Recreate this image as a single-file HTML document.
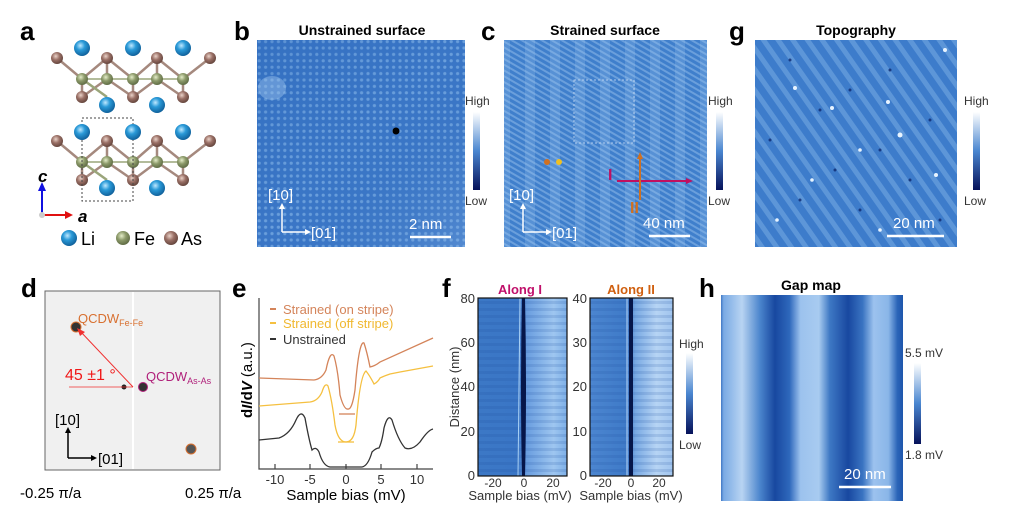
<!DOCTYPE html>
<html><head><meta charset="utf-8"><style>
html,body{margin:0;padding:0;background:#fff;}
svg{display:block;font-family:"Liberation Sans",Arial,sans-serif;}
.lbl{font-weight:bold;font-size:26px;}
.ttl{font-weight:bold;font-size:14px;}
.sm{font-size:12px;fill:#333;}
</style></head><body>
<svg width="1024" height="515" viewBox="0 0 1024 515">
<defs>
<linearGradient id="cb" x1="0" y1="0" x2="0" y2="1"><stop offset="0" stop-color="#ffffff"/><stop offset="0.5" stop-color="#4a86d0"/><stop offset="1" stop-color="#06125a"/></linearGradient>
<pattern id="lat" width="6.4" height="6.4" patternUnits="userSpaceOnUse"><rect width="6.4" height="6.4" fill="#3a76c6"/><circle cx="3.2" cy="3.2" r="1.6" fill="#6a9fdc"/></pattern>
<linearGradient id="bshade" x1="0" y1="0" x2="1" y2="1"><stop offset="0" stop-color="#1f5bb0" stop-opacity="0.2"/><stop offset="0.5" stop-color="#1f5bb0" stop-opacity="0"/><stop offset="1" stop-color="#9cc4f0" stop-opacity="0.25"/></linearGradient>
<pattern id="diag" width="5" height="5" patternUnits="userSpaceOnUse" patternTransform="rotate(-60)"><rect width="5" height="5" fill="#3f7fcc"/><rect width="2" height="5" fill="#6a9fdc"/></pattern>
<pattern id="vband" width="25" height="10" patternUnits="userSpaceOnUse"><rect width="10" height="10" fill="#9ec6f0" fill-opacity="0.25"/></pattern>
<pattern id="diag2" width="12" height="12" patternUnits="userSpaceOnUse" patternTransform="rotate(-35)"><rect width="12" height="12" fill="#3d7ccb"/><rect width="5" height="12" fill="#5d96d8"/></pattern>
<linearGradient id="hband" x1="720" y1="0" x2="903" y2="0" gradientUnits="userSpaceOnUse">
<stop offset="0" stop-color="#2a64b8"/><stop offset="0.02" stop-color="#7aaae4"/><stop offset="0.12" stop-color="#b8d4f2"/><stop offset="0.22" stop-color="#4a84cc"/><stop offset="0.3" stop-color="#1848a0"/><stop offset="0.38" stop-color="#2e68bc"/><stop offset="0.44" stop-color="#9cc2ee"/><stop offset="0.54" stop-color="#a8cbf0"/><stop offset="0.6" stop-color="#3e78c4"/><stop offset="0.7" stop-color="#1848a0"/><stop offset="0.78" stop-color="#3a74c2"/><stop offset="0.84" stop-color="#9cc2ee"/><stop offset="0.92" stop-color="#8ab6e8"/><stop offset="0.97" stop-color="#2a64b8"/><stop offset="1" stop-color="#1e56ac"/></linearGradient>
<linearGradient id="f1g" x1="0" y1="0" x2="1" y2="0"><stop offset="0" stop-color="#3c78c6"/><stop offset="0.45" stop-color="#3a76c6"/><stop offset="0.55" stop-color="#6a9ee0"/><stop offset="0.85" stop-color="#9ec6f0"/><stop offset="1" stop-color="#7eb0e8"/></linearGradient>
<linearGradient id="f2g" x1="0" y1="0" x2="1" y2="0"><stop offset="0" stop-color="#4c86d0"/><stop offset="0.45" stop-color="#3e7ac8"/><stop offset="0.55" stop-color="#7aaae4"/><stop offset="0.8" stop-color="#b6d4f4"/><stop offset="1" stop-color="#a0c4ee"/></linearGradient>
<pattern id="hstr" width="10" height="7" patternUnits="userSpaceOnUse"><rect width="10" height="3" fill="#1c4a9a" fill-opacity="0.15"/></pattern>
<radialGradient id="li" cx="0.4" cy="0.35" r="0.7"><stop offset="0" stop-color="#bfe8ff"/><stop offset="0.4" stop-color="#2a9ad8"/><stop offset="1" stop-color="#0d5a94"/></radialGradient>
<radialGradient id="fe" cx="0.4" cy="0.35" r="0.7"><stop offset="0" stop-color="#e4ecc8"/><stop offset="0.45" stop-color="#8c9a6a"/><stop offset="1" stop-color="#5a6640"/></radialGradient>
<radialGradient id="as" cx="0.4" cy="0.35" r="0.7"><stop offset="0" stop-color="#ead2c8"/><stop offset="0.45" stop-color="#9a7066"/><stop offset="1" stop-color="#5e4038"/></radialGradient>
</defs>

<text x="20" y="40" class="lbl">a</text>
<text x="234" y="40" class="lbl">b</text>
<text x="481" y="40" class="lbl">c</text>
<text x="729" y="40" class="lbl">g</text>
<text x="21" y="297" class="lbl">d</text>
<text x="232" y="297" class="lbl">e</text>
<text x="442" y="297" class="lbl">f</text>
<text x="699" y="297" class="lbl">h</text>

<!-- panel a -->
<g stroke-width="2.5">
<g id="layer">
<polyline points="57,58 82,79 107,58 133,79 157,58 183,79 210,58" fill="none" stroke="#a5897e"/>
<polyline points="82,97 107,79 133,97 157,79 183,97" fill="none" stroke="#a5897e"/>
<polyline points="82,79 107,97 M107,97" fill="none" stroke="#9aa57a"/>
<polyline points="82,97 82,79 M0,0" fill="none" stroke="#a5897e"/>
<line x1="107" y1="58" x2="107" y2="79" stroke="#a5897e"/><line x1="157" y1="58" x2="157" y2="79" stroke="#a5897e"/>
<line x1="133" y1="79" x2="133" y2="97" stroke="#a5897e"/><line x1="183" y1="79" x2="183" y2="97" stroke="#a5897e"/>
<polyline points="82,79 107,79 133,79 157,79 183,79" fill="none" stroke="#9aa57a" stroke-width="1.5"/>
<circle cx="57" cy="58" r="6" fill="url(#as)"/><circle cx="107" cy="58" r="6" fill="url(#as)"/><circle cx="157" cy="58" r="6" fill="url(#as)"/><circle cx="210" cy="58" r="6" fill="url(#as)"/>
<circle cx="82" cy="79" r="6" fill="url(#fe)"/><circle cx="107" cy="79" r="6" fill="url(#fe)"/><circle cx="133" cy="79" r="6" fill="url(#fe)"/><circle cx="157" cy="79" r="6" fill="url(#fe)"/><circle cx="183" cy="79" r="6" fill="url(#fe)"/>
<circle cx="82" cy="97" r="6" fill="url(#as)"/><circle cx="133" cy="97" r="6" fill="url(#as)"/><circle cx="183" cy="97" r="6" fill="url(#as)"/>
<circle cx="107" cy="105" r="8" fill="url(#li)"/><circle cx="157" cy="105" r="8" fill="url(#li)"/>
</g>
<use href="#layer" y="83"/>
</g>
<circle cx="82" cy="48" r="8" fill="url(#li)"/><circle cx="133" cy="48" r="8" fill="url(#li)"/><circle cx="183" cy="48" r="8" fill="url(#li)"/>
<rect x="82" y="118" width="51" height="83" fill="none" stroke="#444" stroke-dasharray="2,2"/>
<circle cx="82" cy="132" r="8" fill="url(#li)"/><circle cx="133" cy="132" r="8" fill="url(#li)"/><circle cx="183" cy="132" r="8" fill="url(#li)"/>
<line x1="42" y1="215" x2="42" y2="190" stroke="#1010e0" stroke-width="2"/><polygon points="38,191 46,191 42,182" fill="#1010e0"/>
<line x1="42" y1="215" x2="66" y2="215" stroke="#e01010" stroke-width="2"/><polygon points="65,211 65,219 73,215" fill="#e01010"/>
<circle cx="42" cy="215" r="3" fill="#ccc"/>
<text x="38" y="182" font-size="17" font-weight="bold" font-style="italic">c</text>
<text x="78" y="222" font-size="17" font-weight="bold" font-style="italic">a</text>
<circle cx="69" cy="238" r="8" fill="url(#li)"/><text x="81" y="245" font-size="18">Li</text>
<circle cx="123" cy="238" r="7" fill="url(#fe)"/><text x="134" y="245" font-size="18">Fe</text>
<circle cx="171" cy="238" r="7" fill="url(#as)"/><text x="181" y="245" font-size="18">As</text>

<!-- panel b -->
<text x="362" y="35" class="ttl" text-anchor="middle">Unstrained surface</text>
<rect x="257" y="40" width="208" height="207" fill="url(#lat)"/>
<rect x="257" y="40" width="208" height="207" fill="url(#bshade)"/>
<ellipse cx="272" cy="88" rx="14" ry="12" fill="#a8ccf2" opacity="0.4"/>
<circle cx="396" cy="131" r="3.5" fill="#000"/>
<g stroke="#fff" stroke-width="1.5" fill="#fff">
<line x1="282" y1="232" x2="282" y2="208"/><polygon points="279,209 285,209 282,203" stroke="none"/>
<line x1="282" y1="232" x2="306" y2="232"/><polygon points="305,229 305,235 311,232" stroke="none"/>
<line x1="410" y1="237" x2="451" y2="237" stroke-width="2.5"/></g>
<text x="268" y="200" font-size="15" fill="#fff">[10]</text>
<text x="311" y="238" font-size="15" fill="#fff">[01]</text>
<text x="409" y="229" font-size="15" fill="#fff">2 nm</text>
<rect x="473" y="112" width="7" height="78" fill="url(#cb)"/>
<text x="465" y="105" class="sm">High</text><text x="465" y="205" class="sm">Low</text>

<!-- panel c -->
<text x="605" y="35" class="ttl" text-anchor="middle">Strained surface</text>
<rect x="504" y="40" width="203" height="207" fill="url(#diag)"/>
<rect x="504" y="40" width="203" height="207" fill="url(#vband)"/>
<rect x="574" y="80" width="60" height="63" fill="none" stroke="#cfe0f5" stroke-width="0.8" stroke-dasharray="2,2"/>
<circle cx="547" cy="162" r="3" fill="#d07020"/><circle cx="559" cy="162" r="3" fill="#f0c020"/>
<line x1="617" y1="181" x2="688" y2="181" stroke="#c01060" stroke-width="2"/><polygon points="686,178 686,184 693,181" fill="#c01060"/>
<line x1="640" y1="200" x2="640" y2="158" stroke="#d07020" stroke-width="2"/><polygon points="637,159 643,159 640,152" fill="#d07020"/>
<text x="608" y="180" font-size="16" font-weight="bold" fill="#c01060">I</text>
<text x="630" y="213" font-size="16" font-weight="bold" fill="#d07020">II</text>
<g stroke="#fff" stroke-width="1.5" fill="#fff">
<line x1="523" y1="232" x2="523" y2="208"/><polygon points="520,209 526,209 523,203" stroke="none"/>
<line x1="523" y1="232" x2="547" y2="232"/><polygon points="546,229 546,235 552,232" stroke="none"/>
<line x1="649" y1="236" x2="690" y2="236" stroke-width="2.5"/></g>
<text x="509" y="200" font-size="15" fill="#fff">[10]</text>
<text x="552" y="238" font-size="15" fill="#fff">[01]</text>
<text x="643" y="228" font-size="15" fill="#fff">40 nm</text>
<rect x="716" y="112" width="7" height="78" fill="url(#cb)"/>
<text x="708" y="105" class="sm">High</text><text x="708" y="205" class="sm">Low</text>

<!-- panel g -->
<text x="856" y="35" class="ttl" text-anchor="middle">Topography</text>
<rect x="755" y="40" width="202" height="207" fill="url(#diag2)"/>
<g fill="#0e2a70" opacity="0.8">
<circle cx="790" cy="60" r="1.5"/><circle cx="820" cy="110" r="1.5"/><circle cx="850" cy="90" r="1.5"/><circle cx="880" cy="150" r="1.5"/><circle cx="910" cy="180" r="1.5"/><circle cx="930" cy="120" r="1.5"/><circle cx="800" cy="200" r="1.5"/><circle cx="860" cy="210" r="1.5"/><circle cx="890" cy="70" r="1.5"/><circle cx="940" cy="220" r="1.5"/><circle cx="770" cy="140" r="1.5"/><circle cx="835" cy="170" r="1.5"/>
</g>
<g fill="#e8f4ff">
<circle cx="795" cy="88" r="2"/><circle cx="832" cy="108" r="2"/><circle cx="888" cy="102" r="2"/><circle cx="900" cy="135" r="2.5"/><circle cx="777" cy="220" r="1.8"/><circle cx="860" cy="150" r="1.8"/><circle cx="936" cy="175" r="2"/><circle cx="812" cy="180" r="1.8"/><circle cx="880" cy="230" r="1.8"/><circle cx="945" cy="50" r="2"/>
</g>
<g stroke="#fff" stroke-width="2.5"><line x1="887" y1="236" x2="944" y2="236"/></g>
<text x="893" y="228" font-size="15" fill="#fff">20 nm</text>
<rect x="973" y="112" width="7" height="78" fill="url(#cb)"/>
<text x="964" y="105" class="sm">High</text><text x="964" y="205" class="sm">Low</text>

<!-- panel d -->
<rect x="45" y="291" width="175" height="179" fill="#f0f0f0" stroke="#666" stroke-width="1"/>
<line x1="133" y1="292" x2="133" y2="469" stroke="#fff" stroke-width="2"/>
<circle cx="124" cy="387" r="2.5" fill="#222"/>
<circle cx="143" cy="387" r="4.5" fill="#333" stroke="#b0207a" stroke-width="1"/>
<circle cx="76" cy="327" r="5" fill="#333" stroke="#d87030" stroke-width="1"/>
<circle cx="191" cy="449" r="5" fill="#555" stroke="#d87030" stroke-width="1"/>
<line x1="69" y1="387" x2="133" y2="387" stroke="#f03030" stroke-width="0.8"/>
<line x1="133" y1="387" x2="80" y2="331" stroke="#f03030" stroke-width="1"/><polygon points="77,328 85,332 80,336" fill="#f03030"/>
<text x="65" y="380" font-size="16" fill="#f01818">45 ±1 °</text>
<text x="78" y="323" font-size="13" fill="#d87030">QCDW<tspan font-size="9" dy="3">Fe-Fe</tspan></text>
<text x="146" y="381" font-size="13" fill="#b0207a">QCDW<tspan font-size="9" dy="3">As-As</tspan></text>
<line x1="68" y1="458" x2="68" y2="432" stroke="#000" stroke-width="1.5"/><polygon points="65,433 71,433 68,427" fill="#000"/>
<line x1="68" y1="458" x2="92" y2="458" stroke="#000" stroke-width="1.5"/><polygon points="91,455 91,461 97,458" fill="#000"/>
<text x="55" y="425" font-size="15">[10]</text>
<text x="98" y="464" font-size="15">[01]</text>
<text x="20" y="498" font-size="15">-0.25 π/a</text>
<text x="185" y="498" font-size="15">0.25 π/a</text>

<!-- panel e -->
<polyline points="259,298 259,469 433,469" fill="none" stroke="#444" stroke-width="1.2"/>
<g stroke="#444" stroke-width="1.2">
<line x1="275" y1="469" x2="275" y2="464"/><line x1="310" y1="469" x2="310" y2="464"/><line x1="346" y1="469" x2="346" y2="464"/><line x1="381" y1="469" x2="381" y2="464"/><line x1="417" y1="469" x2="417" y2="464"/></g>
<g font-size="13" fill="#333" text-anchor="middle"><text x="275" y="484">-10</text><text x="310" y="484">-5</text><text x="346" y="484">0</text><text x="381" y="484">5</text><text x="417" y="484">10</text></g>
<text x="346" y="500" font-size="15" text-anchor="middle">Sample bias (mV)</text>
<text transform="translate(252,380) rotate(-90)" font-size="15" font-weight="bold" text-anchor="middle">d<tspan font-style="italic">I</tspan>/d<tspan font-style="italic">V</tspan> <tspan font-weight="normal">(a.u.)</tspan></text>
<path d="M259,378 L314,380 Q322,379 326,370 Q330,350 334,356 Q338,370 340,395 Q344,410 348,409 Q352,410 355,390 Q359,340 364,343 Q367,352 370,367 Q375,366 380,362 L433,338" fill="none" stroke="#d4845a" stroke-width="1.3"/>
<path d="M259,406 L310,402 Q318,401 322,392 Q325,382 328,386 Q332,400 335,425 Q338,442 346,442 Q354,442 356,425 Q360,375 366,371 Q370,376 374,384 Q378,382 380,378 Q384,376 390,374 L400,372 L433,366" fill="none" stroke="#f5c040" stroke-width="1.3"/>
<path d="M259,440 L279,438 Q290,434 296,420 Q301,409 305,418 Q309,440 312,450 Q316,446 319,452 Q323,466 330,467 L362,467 Q368,466 372,452 Q376,448 379,448 Q382,442 384,428 Q388,413 392,420 Q398,440 405,448 Q412,451 420,442 Q428,430 433,429" fill="none" stroke="#333" stroke-width="1.3"/>
<line x1="339" y1="414" x2="355" y2="414" stroke="#d4845a" stroke-width="1.3"/>
<line x1="338" y1="442" x2="354" y2="442" stroke="#f5c040" stroke-width="1.3"/>
<line x1="270" y1="309" x2="276" y2="309" stroke="#d4845a" stroke-width="2"/><text x="283" y="314" font-size="13" fill="#d4845a">Strained (on stripe)</text>
<line x1="270" y1="323" x2="276" y2="323" stroke="#f5c040" stroke-width="2"/><text x="283" y="328" font-size="13" fill="#f0b830">Strained (off stripe)</text>
<line x1="270" y1="339" x2="276" y2="339" stroke="#333" stroke-width="2"/><text x="283" y="344" font-size="13" fill="#333">Unstrained</text>

<!-- panel f1 -->
<text x="520" y="294" font-size="13" font-weight="bold" fill="#c0106a" text-anchor="middle">Along I</text>
<rect x="478" y="298" width="89" height="178" fill="url(#f1g)"/>
<rect x="478" y="298" width="89" height="178" fill="url(#hstr)"/>
<path d="M522,298 Q520,390 522,476 L525,476 Q527,390 525,298 Z" fill="#06164a"/>
<line x1="520" y1="298" x2="518" y2="476" stroke="#a8d0f4" stroke-width="1"/>
<rect x="478" y="298" width="89" height="178" fill="none" stroke="#111" stroke-width="1.2"/>
<g font-size="13" fill="#333" text-anchor="end"><text x="475" y="303">80</text><text x="475" y="347">60</text><text x="475" y="391">40</text><text x="475" y="436">20</text><text x="475" y="480">0</text></g>
<g font-size="12" fill="#333" text-anchor="middle"><text x="493" y="487">-20</text><text x="524" y="487">0</text><text x="553" y="487">20</text></g>
<text x="520" y="500" font-size="13" fill="#333" text-anchor="middle">Sample bias (mV)</text>
<text transform="translate(459,387) rotate(-90)" font-size="13" fill="#333" text-anchor="middle">Distance (nm)</text>

<!-- panel f2 -->
<text x="631" y="294" font-size="13" font-weight="bold" fill="#d06010" text-anchor="middle">Along II</text>
<rect x="590" y="298" width="83" height="178" fill="url(#f2g)"/>
<rect x="590" y="298" width="83" height="178" fill="url(#hstr)"/>
<rect x="629" y="298" width="4" height="178" fill="#06164a"/>
<line x1="627" y1="298" x2="627" y2="476" stroke="#b8d8f8" stroke-width="1"/>
<rect x="590" y="298" width="83" height="178" fill="none" stroke="#111" stroke-width="1.2"/>
<g font-size="13" fill="#333" text-anchor="end"><text x="587" y="303">40</text><text x="587" y="347">30</text><text x="587" y="391">20</text><text x="587" y="436">10</text><text x="587" y="480">0</text></g>
<g font-size="12" fill="#333" text-anchor="middle"><text x="603" y="487">-20</text><text x="631" y="487">0</text><text x="659" y="487">20</text></g>
<text x="631" y="500" font-size="13" fill="#333" text-anchor="middle">Sample bias (mV)</text>
<rect x="686" y="353" width="7" height="81" fill="url(#cb)"/>
<text x="679" y="348" class="sm">High</text><text x="679" y="449" class="sm">Low</text>

<!-- panel h -->
<text x="811" y="290" class="ttl" text-anchor="middle">Gap map</text>
<rect x="721" y="295" width="182" height="206" fill="url(#hband)"/>
<g stroke="#fff" stroke-width="2.5"><line x1="839" y1="487" x2="891" y2="487"/></g>
<text x="844" y="479" font-size="15" fill="#fff">20 nm</text>
<rect x="914" y="363" width="7" height="81" fill="url(#cb)"/>
<text x="905" y="357" class="sm">5.5 mV</text><text x="905" y="459" class="sm">1.8 mV</text>
</svg>
</body></html>
